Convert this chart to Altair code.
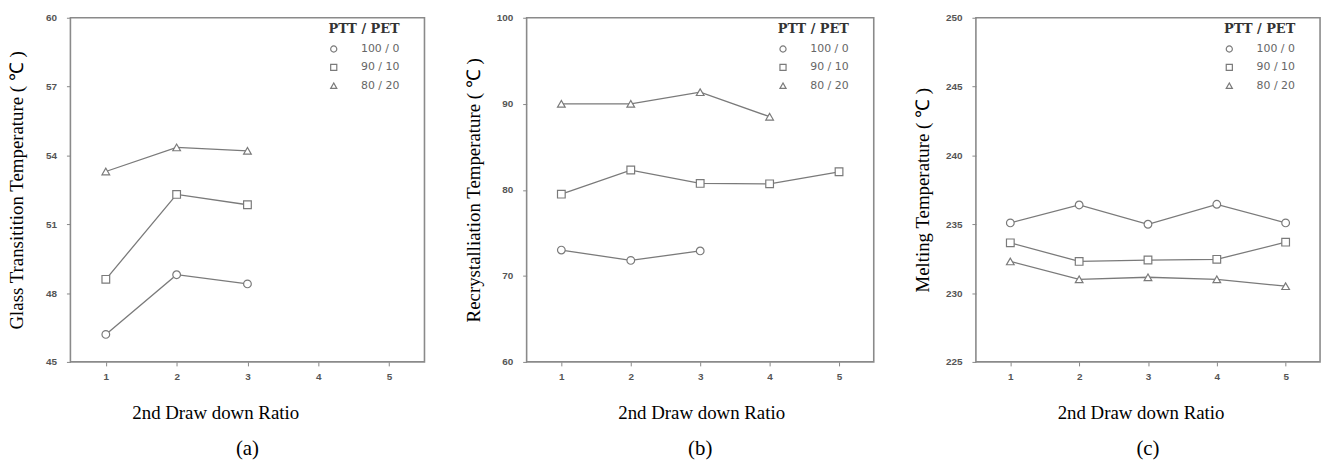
import altair as alt
import pandas as pd

ratios = [1, 2, 3, 4, 5]
blends = ["100 / 0", "90 / 10", "80 / 20"]
shapes = ["circle", "square", "triangle-up"]

# (a) Glass transition temperature
tg_100_0 = [46.2, 48.8, 48.4]
tg_90_10 = [48.6, 52.3, 51.85]
tg_80_20 = [53.3, 54.35, 54.2]

# (b) Recrystallisation temperature
tc_100_0 = [73.0, 71.8, 72.9]
tc_90_10 = [79.5, 82.3, 80.75, 80.7, 82.1]
tc_80_20 = [90.0, 90.0, 91.35, 88.5]

# (c) Melting temperature
tm_100_0 = [235.1, 236.4, 235.0, 236.45, 235.1]
tm_90_10 = [233.65, 232.3, 232.4, 232.45, 233.7]
tm_80_20 = [232.3, 231.0, 231.15, 231.0, 230.5]


def make_df(series_list):
    rows = []
    for name, vals in zip(blends, series_list):
        for r, v in zip(ratios, vals):
            rows.append({"ratio": r, "temp": v, "blend": name})
    return pd.DataFrame(rows)


GRAY = "#7a7a7a"


def panel(df, y_title, y_domain, y_ticks, width, caption, xtitle_x):
    x = alt.X(
        "ratio:Q",
        scale=alt.Scale(domain=[0.5, 5.5], nice=False, zero=False),
        axis=alt.Axis(values=ratios, title="2nd Draw down Ratio", titleX=xtitle_x,
                      titleY=42, format="d", labelPadding=6),
    )
    y = alt.Y(
        "temp:Q",
        scale=alt.Scale(domain=y_domain, nice=False, zero=False),
        axis=alt.Axis(values=y_ticks, title=y_title, titleX=-44, format="d",
                      labelPadding=10),
    )
    shape = alt.Shape(
        "blend:N",
        scale=alt.Scale(domain=blends, range=shapes),
        legend=alt.Legend(
            title="PTT / PET",
            orient="none",
            legendX=width - 97,
            legendY=5,
            titleFont="DejaVu Serif",
            titleFontWeight="bold",
            titleFontSize=13,
            titleColor="#333",
            titleAnchor="end",
            titlePadding=8,
            labelFont="DejaVu Sans",
            labelFontSize=11,
            labelColor="#666",
            labelOffset=22,
            symbolSize=38,
            symbolStrokeWidth=1.2,
            rowPadding=6.5,
        ),
    )
    lines = alt.Chart(df).mark_line(color=GRAY, strokeWidth=1.3).encode(
        x=x, y=y, detail="blend:N"
    )
    pts = alt.Chart(df).mark_point(
        color=GRAY, filled=False, fill="white", strokeWidth=1.2, size=60, opacity=1
    ).encode(x=x, y=y, shape=shape)
    return alt.layer(lines, pts).properties(
        width=width,
        height=347,
        title=alt.TitleParams(
            caption, orient="bottom", anchor="middle", frame="group",
            font="Liberation Serif", fontSize=21, fontWeight="normal",
            color="black", offset=16,
        ),
    )


pa = panel(make_df([tg_100_0, tg_90_10, tg_80_20]),
           "Glass Transitition Temperature ( ℃ )", [45, 60], [45, 48, 51, 54, 57, 60],
           357, "(a)", 146)
pb = panel(make_df([tc_100_0, tc_90_10, tc_80_20]),
           "Recrystalliation Temperature ( ℃ )", [60, 100], [60, 70, 80, 90, 100],
           350, "(b)", 176)
pc = panel(make_df([tm_100_0, tm_90_10, tm_80_20]),
           "Melting Temperature ( ℃ )", [225, 250], [225, 230, 235, 240, 245, 250],
           347, "(c)", 166)

chart = (
    alt.hconcat(pa, pb, pc, spacing=38)
    .resolve_scale(shape="independent", x="independent", y="independent")
    .resolve_legend(shape="independent")
    .properties(padding={"left": 7, "top": 10, "right": 5, "bottom": 0}, background="white")
    .configure_view(stroke="#8a8a8a", strokeWidth=1.6)
    .configure_axis(
        domain=False,
        grid=False,
        ticks=True,
        tickColor="#888",
        tickSize=4,
        labelFont="Liberation Sans",
        labelFontSize=10,
        labelColor="#555",
        labelFontWeight="bold",
        titleFont="Liberation Serif",
        titleFontSize=19,
        titleFontWeight="normal",
        titleColor="black",
    )
)

chart.save("out.html", embed_options={"renderer": "svg", "actions": False})
